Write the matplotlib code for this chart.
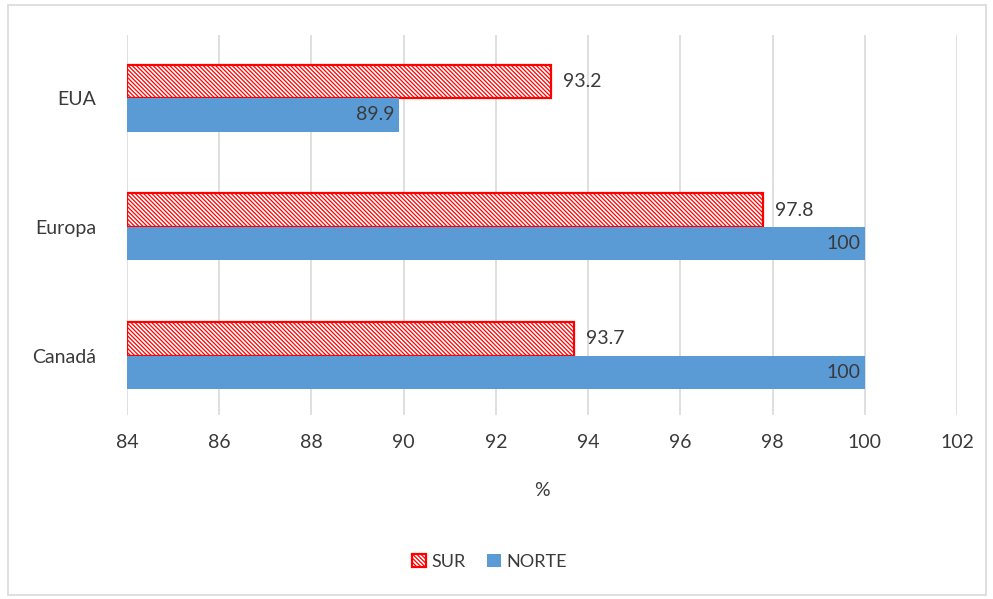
import matplotlib.pyplot as plt
import matplotlib.patches as mpatches
import numpy as np

plt.rcParams["font.family"] = ["Lato", "DejaVu Sans"]
plt.rcParams["hatch.linewidth"] = 0.9

categories = ["Canadá", "Europa", "EUA"]
sur = [93.7, 97.8, 93.2]
norte = [100, 100, 89.9]
x_ticks = [84, 86, 88, 90, 92, 94, 96, 98, 100, 102]

TEXT = "#3A3A3A"
BLUE = "#5B9BD5"
RED = "#FF0000"
BASE = 84
H = 0.26
HATCH = "\\" * 8

fig = plt.figure(figsize=(9.93, 5.99), dpi=100)
ax = fig.add_axes([0.1279, 0.3072, 0.8358, 0.6344])

fig.patches.append(mpatches.Rectangle((0.008, 0.007), 0.985, 0.985, transform=fig.transFigure,
                                      fill=False, edgecolor="#D9D9D9", linewidth=1.2))

y = np.arange(len(categories))
ax.barh(y + H / 2, [v - BASE for v in sur], H, left=BASE, color="white",
        edgecolor=RED, hatch=HATCH, linewidth=1.6, zorder=3)
ax.barh(y - H / 2, [v - BASE for v in norte], H, left=BASE, color=BLUE, zorder=3)

for yi, v in zip(y, sur):
    ax.text(v + 0.25, yi + H / 2, f"{v:g}", va="center", ha="left", fontsize=14, color=TEXT)
for yi, v in zip(y, norte):
    ax.text(v - 0.1, yi - H / 2, f"{v:g}", va="center", ha="right", fontsize=14, color=TEXT)

ax.set_xlim(84, 102)
ax.set_ylim(-0.46, 2.49)
ax.set_xticks(x_ticks)
ax.set_yticks(y)
ax.set_yticklabels(categories)
ax.tick_params(length=0, labelsize=14, colors=TEXT, pad=14)
ax.tick_params(axis="y", pad=22)
ax.grid(axis="x", color="#D9D9D9", linewidth=1.2, zorder=0)
for s in ax.spines.values():
    s.set_visible(False)
ax.set_xlabel("%", fontsize=14, color=TEXT, labelpad=22)

handles = [
    mpatches.Patch(facecolor="white", edgecolor=RED, hatch=HATCH, linewidth=1.6, label="SUR"),
    mpatches.Patch(facecolor=BLUE, label="NORTE"),
]
leg = fig.legend(handles=handles, loc="center", bbox_to_anchor=(0.493, 0.062), ncol=2,
                 frameon=False, fontsize=13, handlelength=0.75, handleheight=0.75,
                 handletextpad=0.3, columnspacing=1.2)
for t in leg.get_texts():
    t.set_color(TEXT)

fig.savefig("out.png", dpi=100, facecolor="white")
